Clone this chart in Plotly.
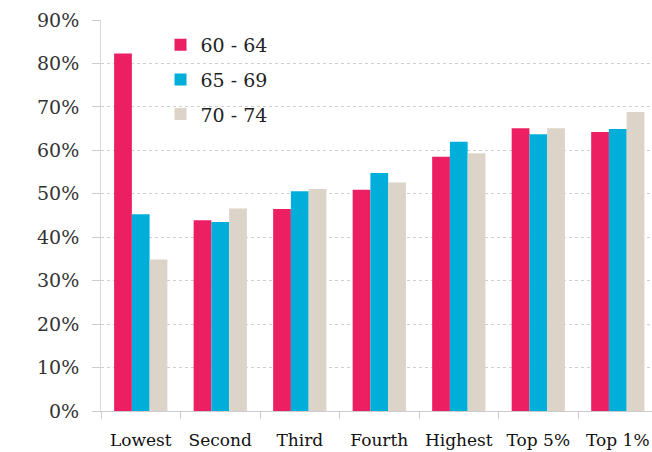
import plotly.graph_objects as go

categories = ["Lowest", "Second", "Third", "Fourth", "Highest", "Top 5%", "Top 1%"]
age_60_64 = [82.3, 43.9, 46.5, 50.9, 58.5, 65.1, 64.2]
age_65_69 = [45.3, 43.5, 50.6, 54.8, 62.0, 63.7, 64.9]
age_70_74 = [34.9, 46.6, 51.1, 52.6, 59.3, 65.1, 68.8]

series = [
    ("60 - 64", age_60_64, "#EC1F63"),
    ("65 - 69", age_65_69, "#00AFD9"),
    ("70 - 74", age_70_74, "#DCD4C8"),
]

fig = go.Figure()
for name, vals, color in series:
    fig.add_trace(go.Bar(
        x=categories, y=vals, name=name, legendgroup=name,
        marker=dict(color=color, line=dict(width=0)),
    ))

font_family = "DejaVu Serif"

fig.update_layout(
    width=652, height=452,
    margin=dict(l=101, r=0, t=20, b=41),
    paper_bgcolor="white", plot_bgcolor="white",
    barmode="group", bargap=0.33, bargroupgap=0,
    font=dict(family=font_family, size=18, color="#222"),
    showlegend=True,
    legend=dict(
        x=0.108, y=0.985, xanchor="left", yanchor="top",
        font=dict(family=font_family, size=19, color="#222"),
        bgcolor="rgba(0,0,0,0)", itemsizing="constant",
        tracegroupgap=7,
    ),
)

fig.update_xaxes(
    range=[-0.5, 6.43],
    showgrid=False,
    showline=True, linecolor="#cccccc", linewidth=1,
    ticks="outside", tickson="boundaries", ticklen=7, tickcolor="#cccccc",
    tickfont=dict(family=font_family, size=17, color="#111"),
    tickangle=0, ticklabelstandoff=14,
)
fig.update_yaxes(
    range=[0, 90], dtick=10, ticksuffix="%",
    showgrid=True, gridcolor="#cfcfcf", griddash="dot", gridwidth=1,
    showline=True, linecolor="#d8d8d8", linewidth=1,
    ticks="outside", ticklen=8, tickcolor="#cccccc",
    tickfont=dict(family=font_family, size=19, color="#333"),
    ticklabelstandoff=9,
    zeroline=False,
)

fig.write_html("out.html")
